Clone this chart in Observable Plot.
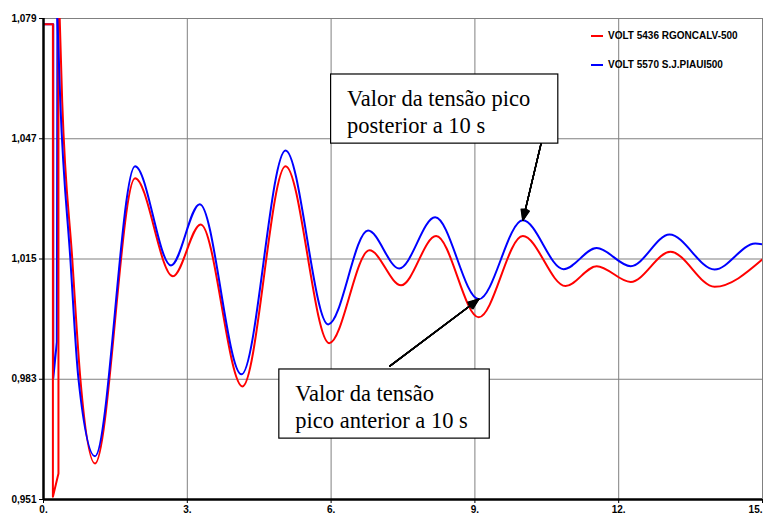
<!DOCTYPE html>
<html>
<head>
<meta charset="utf-8">
<script src="https://cdn.jsdelivr.net/npm/d3@7"></script>
<script src="https://cdn.jsdelivr.net/npm/@observablehq/plot@0.6"></script>
<style>
  html, body { margin: 0; padding: 0; background: #fff; overflow: hidden; }
  #wrap { position: relative; width: 763px; height: 515px; }
  .legend { position: absolute; left: 591px; top: 29.5px; font: bold 10px 'Liberation Sans', Arial, sans-serif; color: #000; }
  .legend .row { display: flex; align-items: center; height: 12px; margin-bottom: 17px; white-space: nowrap; }
  .legend .sw { width: 12px; height: 2px; margin-right: 5px; }
</style>
</head>
<body>
<div id="wrap"></div>
<script>
// Axis ticks
const xTicks = [0, 3, 6, 9, 12, 15];
const yTicks = [0.951, 0.983, 1.015, 1.047, 1.079];

// Series names and colours
const seriesNames = ["VOLT 5436 RGONCALV-500", "VOLT 5570 S.J.PIAUI500"];
const seriesColors = ["#ff0000", "#0000ff"];

// Fault transient (first 0.3 s), drawn with straight segments
const redEarlyT  = [0, 0.196, 0.196, 0.312, 0.312];
const redEarlyV  = [1.0775, 1.0775, 0.9517, 0.9579, 1.090];
const blueEarlyT = [0, 0.204, 0.204, 0.278, 0.290];
const blueEarlyV = [1.0775, 1.0775, 0.9833, 0.9929, 1.079];

// Post-fault swings: spike, then successive troughs and peaks
const redT  = [0.312, 0.39, 0.60, 0.77, 1.075, 1.91, 2.70, 3.28, 4.15, 5.05, 5.96, 6.80, 7.46, 8.19, 9.08, 10.0, 10.89, 11.54, 12.25, 13.08, 14.0, 15.0];
const redV  = [1.090, 1.057, 1.015, 0.983, 0.9606, 1.0365, 1.0104, 1.0242, 0.9811, 1.0397, 0.9926, 1.0173, 1.0080, 1.0211, 0.9995, 1.0211, 1.0078, 1.0131, 1.0089, 1.0169, 1.0076, 1.0149];
const blueT = [0.290, 0.35, 0.56, 0.73, 1.075, 1.91, 2.66, 3.26, 4.13, 5.05, 5.94, 6.77, 7.42, 8.17, 9.08, 10.0, 10.85, 11.54, 12.25, 13.06, 14.0, 14.85, 15.0];
const blueV = [1.079, 1.057, 1.015, 0.983, 0.9625, 1.0397, 1.0133, 1.0296, 0.9843, 1.0439, 0.9976, 1.0226, 1.0125, 1.0261, 1.0043, 1.0253, 1.0123, 1.0179, 1.0131, 1.0215, 1.0122, 1.0191, 1.0189];

// Callouts: box extent, text, arrow start and the blue extremum it points at
const noteTexts   = ["Valor da tensão pico\nposterior a 10 s", "Valor da tensão\npico anterior a 10 s"];
const noteBoxX1   = [6.0, 4.92];
const noteBoxX2   = [10.74, 9.31];
const noteBoxTop  = [1.0641, 0.9856];
const noteBoxBot  = [1.0457, 0.9672];
const arrowFromX  = [10.38, 7.225];
const arrowFromY  = [1.0457, 0.9865];
const arrowToIdx  = [blueT.indexOf(10.0), blueT.indexOf(9.08)];
const arrowInset  = [8, 2];

const rows = (ts, vs) => ts.map((t, i) => ({t, v: vs[i]}));
const redEarly = rows(redEarlyT, redEarlyV);
const blueEarly = rows(blueEarlyT, blueEarlyV);
const red = rows(redT, redV);
const blue = rows(blueT, blueV);

const notes = noteTexts.map((text, i) => ({
  text,
  x1: noteBoxX1[i], x2: noteBoxX2[i], y1: noteBoxBot[i], y2: noteBoxTop[i],
  ax1: arrowFromX[i], ay1: arrowFromY[i],
  ax2: blueT[arrowToIdx[i]], ay2: blueV[arrowToIdx[i]],
  inset: arrowInset[i]
}));

const fmtY = d => d3.format(".3f")(d).replace(".", ",");
const fmtX = d => `${d}.`;

const lineStyle = {x: "t", y: "v", strokeWidth: 2, clip: true};

// Arrow heads are filled by stacking narrowing arrowheads
const headAngles = [44, 36, 28, 20, 12, 5];
const arrowMarks = headAngles.map(a => Plot.arrow(notes, {
  x1: "ax1", y1: "ay1", x2: "ax2", y2: "ay2",
  stroke: "#000", strokeWidth: 1.4, headLength: 12, headAngle: a,
  insetEnd: d => d.inset
}));

const chart = Plot.plot({
  width: 763,
  height: 515,
  marginLeft: 43,
  marginRight: 1,
  marginTop: 18,
  marginBottom: 16,
  style: {
    fontFamily: "'Liberation Sans', Arial, sans-serif",
    fontSize: "10px",
    fontWeight: "bold",
    background: "#fff",
    color: "#000"
  },
  x: {domain: [0, 15], ticks: xTicks, tickFormat: fmtX, tickSize: 4, tickPadding: 2, label: null},
  y: {domain: [0.951, 1.079], ticks: yTicks, tickFormat: fmtY, tickSize: 4, tickPadding: 3, label: null},
  marks: [
    Plot.ruleY(yTicks, {stroke: "#808080", strokeWidth: 1}),
    Plot.ruleX(xTicks, {stroke: "#808080", strokeWidth: 1}),
    Plot.line(blueEarly, {...lineStyle, stroke: seriesColors[1], curve: "linear"}),
    Plot.line(redEarly, {...lineStyle, stroke: seriesColors[0], curve: "linear"}),
    Plot.line(red, {...lineStyle, stroke: seriesColors[0], curve: "monotone-x"}),
    Plot.line(blue, {...lineStyle, stroke: seriesColors[1], curve: "monotone-x"}),
    Plot.ruleX([0], {stroke: "#000", strokeWidth: 2.5}),
    Plot.ruleY([0.951], {stroke: "#000", strokeWidth: 2.5}),
    Plot.rect(notes, {x1: "x1", x2: "x2", y1: "y1", y2: "y2", fill: "#fff", stroke: "#000", strokeWidth: 1.2}),
    Plot.text(notes, {
      x: "x1", y: "y2", text: "text",
      textAnchor: "start", lineAnchor: "top", lineHeight: 1.19,
      dx: 16, dy: 12.5,
      fontFamily: "'Liberation Serif', 'Times New Roman', serif",
      fontSize: 22.5, fontWeight: "normal", fill: "#000"
    }),
    ...arrowMarks
  ]
});

// The last time label sits on the right edge; anchor it at its end so it stays whole
const lastLabel = fmtX(xTicks[xTicks.length - 1]);
chart.querySelectorAll("text").forEach(t => {
  if (t.textContent === lastLabel) t.setAttribute("text-anchor", "end");
});

const wrap = document.getElementById("wrap");
wrap.appendChild(chart);

// Legend inside the plot frame, top right
const legend = document.createElement("div");
legend.className = "legend";
seriesNames.forEach((name, i) => {
  const row = document.createElement("div");
  row.className = "row";
  const sw = document.createElement("span");
  sw.className = "sw";
  sw.style.background = seriesColors[i];
  const label = document.createElement("span");
  label.textContent = name;
  row.append(sw, label);
  legend.appendChild(row);
});
wrap.appendChild(legend);
</script>
</body>
</html>
